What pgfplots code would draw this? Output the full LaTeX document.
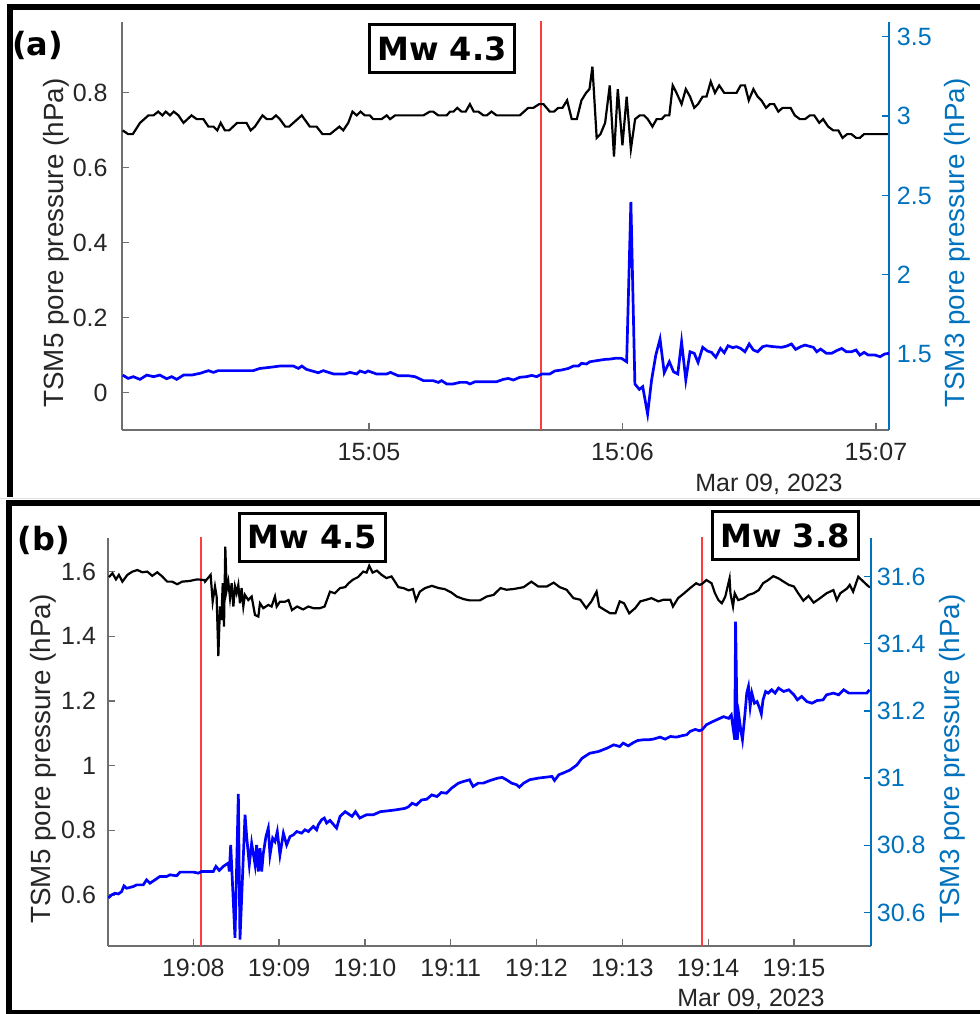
\documentclass[border=0pt]{standalone}
\usepackage{pgfplots}
\pgfplotsset{compat=1.18}
\usepackage{fontspec}
\setmainfont{Liberation Sans}
\newfontfamily\djv{DejaVu Sans}
\definecolor{axgray}{RGB}{110,110,110}
\definecolor{txtgray}{RGB}{38,38,38}
\definecolor{mblue}{RGB}{0,114,189}
\definecolor{redl}{RGB}{255,60,60}
\begin{document}
\begin{tikzpicture}
\useasboundingbox (0,0) rectangle (490pt,507pt);
\pgfplotsset{
 base/.style={
  scale only axis,
  tick align=inside, major tick length=3.5pt,
  tick label style={font=\fontsize{12.5}{14}\selectfont},
  label style={font=\fontsize{13.9}{16}\selectfont},
  /pgf/number format/assume math mode=true,
  clip=true,
 },
 leftax/.style={base, axis x line*=bottom, axis y line*=left,
   axis line style={axgray, line width=0.6pt},
   tick style={axgray, line width=0.6pt},
   xticklabel style={anchor=base, inner sep=0pt, yshift=-15.3pt, text=txtgray},
   yticklabel style={anchor=east, inner sep=0pt, text=txtgray},
   ylabel style={text=txtgray},
 },
 rightax/.style={base, axis x line=none, axis y line*=right,
   axis line style={mblue, line width=0.6pt},
   tick style={mblue, line width=0.6pt},
   yticklabel style={anchor=west, inner sep=0pt, text=mblue},
   ylabel style={text=mblue},
 },
}
% ---------------- panel (a) ----------------
\begin{axis}[leftax, at={(61pt,292pt)}, anchor=south west, width=383.5pt, height=204pt,
 xmin=1.54, xmax=183.1, ymin=-0.099, ymax=0.989,
 xtick={60,120,180}, xticklabels={15:05,15:06,15:07},
 ytick={0,0.2,0.4,0.6,0.8}, yticklabels={0,0.2,0.4,0.6,0.8},
 yticklabel style={xshift=-7pt},
 ylabel={TSM5 pore pressure (hPa)},
 ylabel style={at={(axis description cs:-0.086,0.458)}, anchor=center},
]
\addplot[redl, line width=0.7pt] coordinates {(100.7,-0.2)(100.7,1.1)};
\addplot[black, line width=1.1pt] coordinates {
(1.7,0.70)(3.0,0.69)(4.1,0.69)(5.8,0.72)(7.8,0.74)(9.0,0.74)(10.1,0.75)(11.1,0.74)(11.9,0.75)(12.9,0.74)(13.8,0.75)(14.9,0.74)(16.1,0.72)(18.0,0.74)(19.2,0.73)(20.8,0.73)(22.0,0.71)(23.2,0.71)(24.1,0.70)(24.9,0.72)(25.9,0.70)(26.9,0.70)(28.8,0.72)(31.0,0.72)(32.0,0.70)(33.0,0.71)(34.8,0.74)(35.8,0.73)(37.0,0.73)(38.0,0.74)(38.9,0.73)(40.2,0.71)(41.1,0.71)(44.1,0.74)(46.0,0.71)(47.6,0.71)(49.0,0.69)(50.8,0.69)(53.0,0.71)(53.9,0.70)(55.1,0.72)(56.1,0.75)(57.1,0.74)(58.0,0.75)(59.0,0.74)(60.2,0.74)(61.0,0.73)(63.0,0.73)(64.2,0.74)(65.0,0.73)(66.2,0.74)(72.9,0.74)(74.4,0.75)(75.2,0.75)(76.4,0.74)(78.4,0.74)(79.2,0.75)(80.0,0.75)(80.9,0.76)(81.9,0.75)(82.9,0.75)(83.9,0.77)(84.8,0.75)(85.9,0.75)(87.1,0.74)(87.9,0.74)(89.0,0.75)(90.2,0.74)(95.7,0.74)(97.7,0.76)(98.9,0.76)(100.3,0.77)(101.3,0.77)(102.8,0.75)(103.8,0.75)(104.8,0.76)(105.8,0.76)(106.9,0.78)(108.0,0.73)(109.2,0.73)(110.3,0.78)(111.4,0.80)(112.2,0.81)(112.9,0.87)(113.9,0.68)(114.8,0.69)(115.9,0.72)(117.0,0.82)(118.0,0.63)(118.9,0.81)(120.0,0.66)(121.0,0.79)(122.0,0.65)(123.0,0.73)(124.1,0.74)(125.1,0.74)(126.0,0.73)(127.1,0.71)(128.1,0.73)(129.3,0.73)(130.1,0.74)(131.1,0.74)(131.9,0.82)(132.8,0.80)(134.0,0.77)(135.0,0.81)(136.0,0.79)(137.0,0.76)(137.9,0.77)(139.0,0.79)(139.9,0.79)(140.9,0.83)(141.9,0.80)(142.9,0.82)(144.1,0.80)(147.0,0.80)(148.0,0.82)(149.0,0.82)(149.9,0.78)(151.0,0.81)(152.0,0.79)(152.9,0.78)(154.0,0.76)(154.9,0.77)(155.9,0.77)(156.9,0.75)(157.9,0.76)(159.8,0.76)(160.8,0.74)(162.0,0.73)(163.2,0.73)(164.4,0.74)(165.4,0.74)(166.6,0.72)(167.5,0.73)(168.7,0.71)(169.9,0.70)(171.1,0.70)(172.1,0.68)(173.2,0.69)(174.2,0.69)(175.3,0.68)(176.2,0.68)(177.2,0.69)(183.1,0.69)
};
\end{axis}
\begin{axis}[rightax, at={(61pt,292pt)}, anchor=south west, width=383.5pt, height=204pt,
 xmin=1.54, xmax=183.1, ymin=1.022, ymax=3.593,
 ytick={1.5,2,2.5,3,3.5}, yticklabels={1.5,2,2.5,3,3.5},
 yticklabel style={xshift=3.75pt},
 ylabel={TSM3 pore pressure (hPa)},
 ylabel style={at={(axis description cs:1.0887,0.458)}, anchor=center},
]
\addplot[blue, line width=1.35pt] coordinates {
(1.7,1.368)(3.0,1.347)(4.2,1.358)(5.8,1.341)(7.4,1.368)(9.0,1.358)(10.5,1.368)(12.1,1.345)(13.3,1.358)(14.5,1.341)(16.1,1.368)(18.0,1.368)(20.0,1.379)(22.0,1.396)(23.2,1.385)(24.3,1.396)(32.6,1.396)(34.2,1.410)(36.6,1.417)(38.9,1.425)(42.1,1.425)(43.3,1.410)(44.1,1.425)(45.2,1.404)(48.0,1.383)(49.2,1.396)(51.6,1.375)(54.3,1.375)(55.5,1.385)(57.1,1.375)(57.9,1.394)(59.1,1.383)(59.8,1.394)(61.8,1.375)(64.2,1.375)(65.1,1.385)(66.9,1.364)(69.3,1.364)(70.9,1.358)(72.9,1.333)(75.2,1.333)(76.4,1.322)(77.2,1.333)(78.4,1.312)(79.9,1.312)(81.5,1.322)(83.1,1.322)(83.9,1.312)(85.1,1.326)(87.9,1.326)(90.2,1.326)(91.8,1.341)(93.0,1.347)(94.2,1.337)(95.7,1.354)(97.3,1.358)(98.5,1.366)(99.7,1.358)(100.9,1.375)(102.8,1.375)(104.0,1.394)(105.6,1.400)(107.2,1.410)(108.4,1.425)(109.6,1.425)(110.3,1.442)(111.5,1.438)(112.3,1.452)(113.9,1.459)(115.9,1.467)(117.1,1.469)(118.6,1.475)(119.8,1.473)(121.0,1.452)(122.0,2.46)(122.95,1.312)(124.0,1.278)(124.8,1.295)(125.96,1.123)(126.9,1.337)(127.9,1.494)(128.9,1.595)(129.9,1.383)(131.1,1.452)(132.1,1.389)(133.1,1.375)(134.0,1.578)(135.0,1.337)(136.0,1.515)(137.0,1.505)(137.9,1.448)(139.0,1.543)(140.1,1.520)(141.1,1.511)(142.1,1.480)(143.2,1.536)(144.1,1.509)(145.0,1.553)(146.1,1.541)(147.0,1.547)(148.0,1.536)(149.0,1.515)(150.0,1.564)(151.0,1.526)(152.0,1.515)(153.2,1.547)(154.1,1.553)(155.7,1.547)(157.7,1.543)(158.9,1.551)(160.0,1.564)(161.0,1.530)(162.2,1.547)(163.2,1.557)(165.2,1.543)(166.0,1.515)(166.9,1.532)(168.3,1.505)(169.5,1.505)(170.7,1.522)(171.9,1.536)(173.0,1.515)(174.2,1.515)(175.3,1.526)(176.2,1.494)(177.2,1.511)(178.2,1.494)(179.8,1.494)(181.0,1.484)(182.1,1.501)(183.1,1.505)
};
\end{axis}
% ---------------- panel (b) ----------------
\begin{axis}[leftax, at={(54pt,34pt)}, anchor=south west, width=381.5pt, height=204pt,
 xmin=0.006, xmax=8.898, ymin=0.442, ymax=1.704,
 xtick={1,2,3,4,5,6,7,8}, xticklabels={19:08,19:09,19:10,19:11,19:12,19:13,19:14,19:15},
 ytick={0.6,0.8,1,1.2,1.4,1.6}, yticklabels={0.6,0.8,1,1.2,1.4,1.6},
 yticklabel style={xshift=-5.8pt},
 ylabel={TSM5 pore pressure (hPa)},
 ylabel style={at={(axis description cs:-0.0852,0.458)}, anchor=center},
]
\addplot[redl, line width=0.7pt] coordinates {(1.09,0.3)(1.09,1.8)};
\addplot[redl, line width=0.7pt] coordinates {(6.93,0.3)(6.93,1.8)};
\addplot[black, line width=1.1pt] coordinates {
(0.017,1.583)(0.058,1.595)(0.099,1.576)(0.133,1.590)(0.174,1.569)(0.232,1.590)(0.290,1.600)(0.348,1.605)(0.406,1.598)(0.464,1.600)(0.522,1.587)(0.580,1.598)(0.638,1.585)(0.696,1.569)(0.754,1.569)(0.812,1.561)(0.870,1.569)(0.957,1.571)(1.043,1.576)(1.130,1.574)
(1.137,1.569)(1.202,1.590)(1.226,1.507)(1.253,1.554)(1.272,1.523)(1.292,1.339)(1.311,1.492)(1.327,1.45)(1.343,1.564)(1.358,1.43)(1.373,1.677)(1.389,1.543)(1.408,1.569)(1.428,1.518)(1.447,1.564)(1.467,1.492)(1.486,1.554)(1.505,1.533)(1.525,1.559)(1.544,1.502)(1.563,1.549)(1.583,1.492)(1.602,1.528)(1.641,1.512)(1.68,1.523)(1.719,1.466)(1.758,1.461)(1.777,1.502)(1.816,1.487)(1.874,1.497)(1.913,1.492)(1.952,1.523)(1.972,1.492)(2.01,1.507)(2.07,1.507)(2.11,1.512)(2.15,1.481)(2.21,1.492)(2.28,1.483)(2.34,1.492)(2.40,1.487)
(2.476,1.487)(2.53,1.492)(2.593,1.538)(2.65,1.533)(2.71,1.549)(2.77,1.552)(2.81,1.564)(2.86,1.575)(2.92,1.583)(2.98,1.600)(3.02,1.597)(3.05,1.618)(3.09,1.597)(3.14,1.603)(3.195,1.590)(3.25,1.580)(3.31,1.585)(3.35,1.569)(3.39,1.552)(3.45,1.549)(3.51,1.542)(3.56,1.546)(3.595,1.511)(3.64,1.538)(3.70,1.549)(3.78,1.556)(3.86,1.549)(3.93,1.546)(4.01,1.535)(4.07,1.523)(4.15,1.515)(4.22,1.511)(4.34,1.511)
(4.42,1.523)(4.50,1.528)(4.58,1.549)(4.65,1.544)(4.73,1.546)(4.85,1.552)(4.94,1.569)(5.02,1.554)(5.12,1.554)(5.20,1.566)(5.27,1.552)(5.35,1.544)(5.43,1.518)(5.51,1.513)(5.58,1.487)(5.64,1.508)(5.70,1.538)(5.73,1.492)(5.79,1.482)(5.86,1.471)(5.92,1.471)(5.97,1.508)(6.02,1.502)(6.08,1.471)(6.15,1.487)(6.21,1.508)(6.28,1.513)(6.34,1.518)(6.42,1.508)(6.48,1.513)(6.56,1.513)(6.59,1.492)(6.65,1.518)(6.72,1.533)(6.79,1.549)(6.86,1.564)(6.90,1.559)
(6.93,1.562)(6.98,1.574)(7.04,1.564)(7.08,1.533)(7.12,1.512)(7.16,1.502)(7.20,1.523)(7.25,1.579)(7.26,1.533)(7.29,1.492)(7.31,1.533)(7.35,1.512)(7.41,1.517)(7.47,1.528)(7.53,1.533)(7.59,1.543)(7.64,1.564)(7.70,1.574)(7.76,1.586)(7.82,1.579)(7.88,1.569)(7.94,1.559)(8.0,1.554)(8.05,1.533)(8.11,1.510)(8.17,1.525)(8.23,1.504)(8.30,1.517)(8.38,1.533)(8.46,1.543)(8.50,1.512)(8.54,1.533)(8.62,1.548)(8.65,1.559)(8.69,1.538)(8.75,1.584)(8.81,1.569)(8.87,1.554)(8.89,1.552)
};
\end{axis}
\begin{axis}[rightax, at={(54pt,34pt)}, anchor=south west, width=381.5pt, height=204pt,
 xmin=0.006, xmax=8.898, ymin=30.50, ymax=31.715,
 ytick={30.6,30.8,31,31.2,31.4,31.6}, yticklabels={30.6,30.8,31,31.2,31.4,31.6},
 yticklabel style={xshift=2.8pt},
 ylabel={TSM3 pore pressure (hPa)},
 ylabel style={at={(axis description cs:1.1062,0.458)}, anchor=center},
]
\addplot[blue, line width=1.35pt] coordinates {
(0.009,30.643)(0.048,30.652)(0.087,30.657)(0.126,30.655)(0.165,30.662)(0.192,30.679)(0.223,30.672)(0.301,30.677)(0.340,30.682)(0.417,30.682)(0.456,30.697)(0.495,30.687)(0.553,30.697)(0.611,30.707)(0.689,30.707)(0.728,30.712)(0.806,30.709)(0.845,30.720)(1.0,30.720)(1.058,30.717)(1.097,30.722)(1.233,30.722)(1.264,30.737)(1.303,30.725)(1.350,30.737)(1.408,30.747)(1.420,30.722)
(1.436,30.801)(1.486,30.524)(1.525,30.953)(1.544,30.519)(1.603,30.891)(1.622,30.826)(1.653,30.742)(1.68,30.806)(1.72,30.742)(1.738,30.801)(1.758,30.722)(1.777,30.791)(1.797,30.722)(1.816,30.776)(1.847,30.826)(1.874,30.851)(1.894,30.771)(1.925,30.821)(1.952,30.811)(1.979,30.841)(2.01,30.771)(2.05,30.836)(2.088,30.801)(2.127,30.826)(2.166,30.831)(2.205,30.841)(2.263,30.836)(2.302,30.846)(2.341,30.841)(2.399,30.856)(2.438,30.846)(2.457,30.861)(2.496,30.876)(2.527,30.881)(2.554,30.866)(2.593,30.874)
(2.67,30.851)(2.71,30.886)(2.77,30.900)(2.85,30.886)(2.89,30.900)(2.94,30.881)(3.02,30.891)(3.10,30.891)(3.18,30.900)(3.25,30.902)(3.35,30.905)(3.47,30.910)(3.51,30.915)(3.55,30.925)(3.60,30.920)(3.66,30.935)(3.72,30.937)(3.78,30.950)(3.84,30.945)(3.89,30.957)(3.95,30.955)(4.01,30.970)(4.09,30.985)(4.15,30.990)(4.22,30.995)(4.26,30.975)(4.32,30.985)(4.38,30.985)(4.46,30.993)(4.55,31.0)
(4.60,31.002)(4.65,30.995)(4.71,30.985)(4.77,30.980)(4.80,30.973)(4.85,30.985)(4.92,30.995)(5.02,31.0)(5.12,31.003)(5.18,31.005)(5.21,30.993)(5.26,31.010)(5.31,31.015)(5.39,31.024)(5.47,31.039)(5.53,31.059)(5.62,31.074)(5.72,31.079)(5.82,31.089)(5.90,31.099)(5.97,31.094)(6.01,31.104)(6.07,31.096)(6.13,31.106)(6.18,31.112)(6.24,31.114)(6.30,31.114)(6.36,31.116)(6.44,31.122)(6.50,31.116)(6.56,31.124)(6.63,31.122)(6.69,31.126)(6.75,31.129)(6.79,31.139)(6.85,31.145)(6.90,31.141)
(6.93,31.144)(6.98,31.159)(7.06,31.169)(7.12,31.176)(7.18,31.183)(7.24,31.178)(7.27,31.188)(7.31,31.114)(7.32,31.466)(7.34,31.114)(7.36,31.183)(7.38,31.144)(7.40,31.114)(7.43,31.193)(7.45,31.253)(7.47,31.273)(7.49,31.213)(7.51,31.253)(7.54,31.223)(7.57,31.228)(7.60,31.208)(7.62,31.191)(7.64,31.233)(7.67,31.258)(7.70,31.253)(7.74,31.263)(7.78,31.253)(7.82,31.268)(7.88,31.258)(7.94,31.263)(8.00,31.248)(8.04,31.233)(8.09,31.243)(8.15,31.228)(8.21,31.223)(8.27,31.231)(8.34,31.233)(8.38,31.248)(8.46,31.253)(8.52,31.248)(8.58,31.263)(8.64,31.253)(8.70,31.253)(8.77,31.253)(8.85,31.253)(8.88,31.263)
};
\end{axis}
% ---------------- frames and annotations ----------------
\draw[gray!25, line width=0.5pt] (0,257.8pt) -- (490pt,257.8pt);
\draw[line width=3pt, line join=miter] (5pt,258.5pt) -- (5pt,503.5pt) -- (495pt,503.5pt);
\draw[line width=3pt, line join=miter] (495pt,255.5pt) -- (4.5pt,255.5pt) -- (4.5pt,0.5pt) -- (495pt,0.5pt);
\node[draw, line width=1.5pt, minimum width=72.5pt, minimum height=24pt, inner sep=0pt, font={\djv\bfseries\fontsize{16}{19}\selectfont}] at (221pt,482.75pt) {Mw 4.3};
\node[draw, line width=1.5pt, minimum width=73pt, minimum height=24pt, inner sep=0pt, font={\djv\bfseries\fontsize{16}{19}\selectfont}] at (156.25pt,238.25pt) {Mw 4.5};
\node[draw, line width=1.5pt, minimum width=73pt, minimum height=24pt, inner sep=0pt, font={\djv\bfseries\fontsize{16}{19}\selectfont}] at (392.5pt,239.25pt) {Mw 3.8};
\node[inner sep=0pt, font={\djv\bfseries\fontsize{16}{19}\selectfont}] at (18.75pt,484.5pt) {(a)};
\node[inner sep=0pt, font={\djv\bfseries\fontsize{16}{19}\selectfont}] at (22pt,237pt) {(b)};
\node[anchor=base, inner sep=0pt, text=txtgray, font=\fontsize{12.5}{14}\selectfont] at (384.5pt,261.25pt) {Mar 09, 2023};
\node[anchor=base, inner sep=0pt, text=txtgray, font=\fontsize{12.5}{14}\selectfont] at (375.5pt,3.67pt) {Mar 09, 2023};
\end{tikzpicture}
\end{document}
